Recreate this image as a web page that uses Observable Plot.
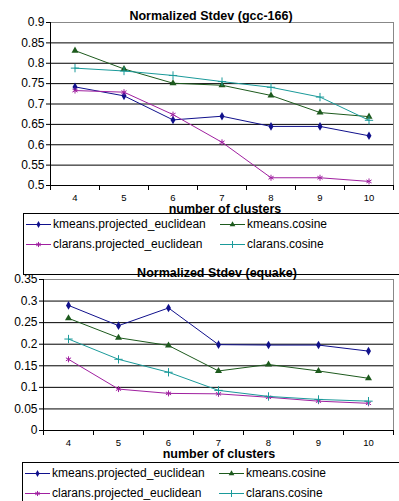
<!DOCTYPE html>
<html><head><meta charset="utf-8">
<script src="https://cdn.jsdelivr.net/npm/d3@7"></script>
<script src="https://cdn.jsdelivr.net/npm/@observablehq/plot@0.6"></script>
<style>
body{margin:0;background:#fff;font-family:"Liberation Sans",Arial,sans-serif;}
#wrap{position:relative;width:399px;height:501px;overflow:hidden;background:#fff;}
.chart{position:absolute;left:0;}
.title{position:absolute;font-weight:bold;font-size:12.5px;transform:translate(-50%,-50%);white-space:nowrap;color:#000;}
.xlab{position:absolute;font-weight:bold;font-size:12.5px;transform:translate(-50%,-50%);white-space:nowrap;color:#000;}
.legend{position:absolute;border:1px solid #000;width:420px;height:60px;background:#fff;}
.item{position:absolute;font-size:12px;white-space:nowrap;display:flex;align-items:center;color:#000;}
.item svg{margin-right:2px;}
</style>
</head><body>
<div id="wrap"></div>
<script>
const clusters = [4, 5, 6, 7, 8, 9, 10];
const seriesNames = ["kmeans.projected_euclidean", "kmeans.cosine", "clarans.projected_euclidean", "clarans.cosine"];
const seriesColors = ["#10108c", "#1d5a1d", "#a020a0", "#1a9a9a"];
const seriesSymbols = ["diamond", "triangle", "asterisk", "plus"];

// gcc-166
const gccKmeansPE = [0.742, 0.720, 0.661, 0.670, 0.645, 0.645, 0.622];
const gccKmeansCos = [0.831, 0.786, 0.751, 0.746, 0.721, 0.679, 0.669];
const gccClaransPE = [0.733, 0.729, 0.674, 0.606, 0.519, 0.519, 0.510];
const gccClaransCos = [0.788, 0.781, 0.770, 0.755, 0.741, 0.717, 0.660];

// equake
const eqKmeansPE = [0.290, 0.243, 0.284, 0.199, 0.198, 0.198, 0.184];
const eqKmeansCos = [0.260, 0.215, 0.197, 0.138, 0.153, 0.138, 0.121];
const eqClaransPE = [0.165, 0.096, 0.086, 0.085, 0.077, 0.068, 0.063];
const eqClaransCos = [0.212, 0.165, 0.135, 0.093, 0.079, 0.072, 0.068];

const gccTicks = [0.5, 0.55, 0.6, 0.65, 0.7, 0.75, 0.8, 0.85, 0.9];
const eqTicks = [0, 0.05, 0.1, 0.15, 0.2, 0.25, 0.3, 0.35];

function rows(seriesArrays) {
  const out = [];
  seriesArrays.forEach((vals, i) => vals.forEach((v, j) => out.push({x: clusters[j], y: v, s: seriesNames[i]})));
  return out;
}

const wrap = document.getElementById("wrap");
const symMap = {diamond: d3.symbolDiamond, triangle: d3.symbolTriangle, asterisk: d3.symbolAsterisk, plus: d3.symbolPlus};

function addChart(cfg) {
  const data = rows(cfg.series);
  const [y0, y1] = [cfg.ticks[0], cfg.ticks[cfg.ticks.length - 1]];
  const bounds = d3.range(clusters.length + 1).map(i => clusters[0] - 0.5 + i);
  const marks = [
    Plot.gridY(cfg.ticks, {stroke: "#000", strokeOpacity: 1, strokeWidth: 1}),
    Plot.frame({stroke: "#888"}),
    Plot.ruleX([bounds[0]], {stroke: "#000"}),
    Plot.ruleY([y0], {stroke: "#000"}),
    Plot.axisY({ticks: cfg.ticks, label: null, tickSize: 4, tickPadding: 2, fontSize: 12, tickFormat: d => String(+d.toFixed(2))}),
    Plot.axisX({ticks: bounds, label: null, tickSize: 5, tickFormat: () => ""}),
    Plot.axisX({ticks: clusters, label: null, tickSize: 0, tickPadding: 9, fontSize: 9.5, tickFormat: d => String(d)}),
    Plot.line(data, {x: "x", y: "y", z: "s", stroke: "s", strokeWidth: 1})
  ];
  seriesNames.forEach((name, i) => {
    const sym = seriesSymbols[i];
    const filled = sym === "diamond" || sym === "triangle";
    marks.push(Plot.dot(data.filter(d => d.s === name), filled
      ? {x: "x", y: "y", symbol: () => sym, fill: seriesColors[i], r: 2.6}
      : {x: "x", y: "y", symbol: () => sym, stroke: seriesColors[i], strokeWidth: 1, r: 2.8}));
  });
  const svg = Plot.plot({
    width: 399,
    height: cfg.height,
    marginLeft: cfg.marginLeft,
    marginRight: 6,
    marginTop: cfg.marginTop,
    marginBottom: cfg.marginBottom,
    style: {fontFamily: "'Liberation Sans', Arial, sans-serif", color: "#000", background: "transparent"},
    x: {type: "linear", domain: [bounds[0], bounds[bounds.length - 1]], axis: null, label: null},
    y: {domain: [y0, y1], axis: null, label: null},
    color: {domain: seriesNames, range: seriesColors},
    symbol: {type: "identity"},
    marks
  });
  const div = document.createElement("div");
  div.className = "chart";
  div.style.top = cfg.top + "px";
  div.appendChild(svg);
  wrap.appendChild(div);

  const t = document.createElement("div");
  t.className = "title";
  t.textContent = cfg.title;
  t.style.left = cfg.titleX + "px";
  t.style.top = cfg.titleY + "px";
  wrap.appendChild(t);

  const xl = document.createElement("div");
  xl.className = "xlab";
  xl.textContent = "number of clusters";
  xl.style.left = cfg.xlabX + "px";
  xl.style.top = cfg.xlabY + "px";
  wrap.appendChild(xl);

  const lg = document.createElement("div");
  lg.className = "legend";
  lg.style.left = cfg.legendX + "px";
  lg.style.top = cfg.legendY + "px";
  wrap.appendChild(lg);
  const pos = [[0, 0], [1, 0], [0, 1], [1, 1]];
  seriesNames.forEach((name, i) => {
    const it = document.createElement("div");
    it.className = "item";
    it.style.left = (2 + pos[i][0] * 194) + "px";
    it.style.top = (3 + pos[i][1] * 20) + "px";
    const sw = d3.create("svg").attr("width", 25).attr("height", 12);
    sw.append("line").attr("x1", 0).attr("x2", 25).attr("y1", 6.5).attr("y2", 6.5)
      .attr("stroke", seriesColors[i]).attr("stroke-width", 1);
    const sym = seriesSymbols[i];
    const filled = sym === "diamond" || sym === "triangle";
    sw.append("path").attr("transform", "translate(12.5,6.5)")
      .attr("d", d3.symbol(symMap[sym], filled ? 14 : 18)())
      .attr("fill", filled ? seriesColors[i] : "none")
      .attr("stroke", filled ? "none" : seriesColors[i]).attr("stroke-width", 1);
    it.appendChild(sw.node());
    const sp = document.createElement("span");
    sp.textContent = name;
    it.appendChild(sp);
    lg.appendChild(it);
  });
}

addChart({
  series: [gccKmeansPE, gccKmeansCos, gccClaransPE, gccClaransCos],
  ticks: gccTicks, top: 0, height: 212, marginTop: 22, marginBottom: 27, marginLeft: 50,
  title: "Normalized Stdev (gcc-166)", titleX: 211, titleY: 16,
  xlabX: 225, xlabY: 209, legendX: 23, legendY: 213
});
addChart({
  series: [eqKmeansPE, eqKmeansCos, eqClaransPE, eqClaransCos],
  ticks: eqTicks, top: 257, height: 200, marginTop: 22, marginBottom: 27, marginLeft: 43,
  title: "Normalized Stdev (equake)", titleX: 217, titleY: 273,
  xlabX: 219, xlabY: 454, legendX: 22, legendY: 462
});
</script>
</body></html>
